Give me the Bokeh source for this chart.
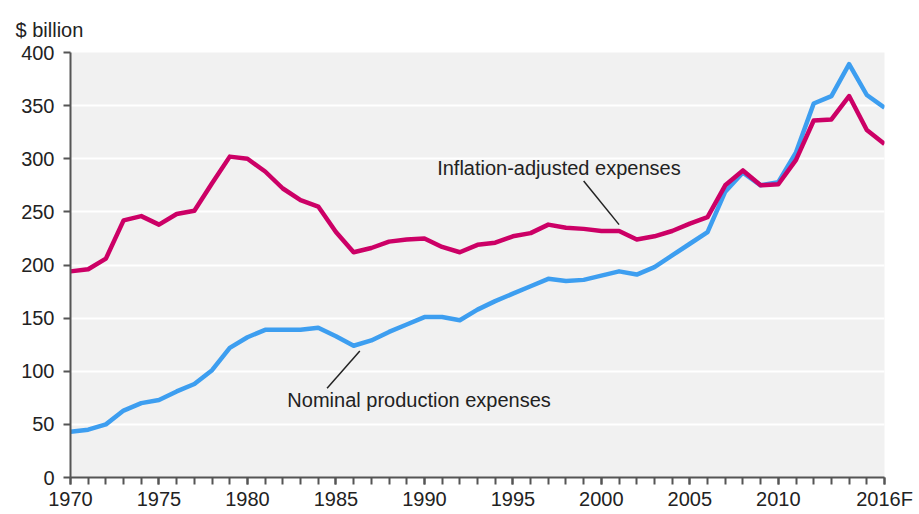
from bokeh.plotting import figure
from bokeh.models import FixedTicker, Label, Range1d
from bokeh.embed import file_html
from bokeh.resources import INLINE

years = list(range(1970, 2017))
nominal = [43, 45, 50, 63, 70, 73, 81, 88, 101, 122,
           132, 139, 139, 139, 141, 133, 124, 129, 137, 144,
           151, 151, 148, 158, 166, 173, 180, 187, 185, 186,
           190, 194, 191, 198, 209, 220, 231, 269, 287, 275,
           278, 306, 352, 359, 389, 360, 348]
inflation = [194, 196, 206, 242, 246, 238, 248, 251, 277, 302,
             300, 288, 272, 261, 255, 231, 212, 216, 222, 224,
             225, 217, 212, 219, 221, 227, 230, 238, 235, 234,
             232, 232, 224, 227, 232, 239, 245, 275, 289, 275,
             276, 299, 336, 337, 359, 327, 314]
y_ticks = [0, 50, 100, 150, 200, 250, 300, 350, 400]
x_major = [1970, 1975, 1980, 1985, 1990, 1995, 2000, 2005, 2010, 2016]
x_labels = {2016: "2016F"}

FONT = "Liberation Sans"
TXT = "#222222"

p = figure(width=919, height=512, output_backend="svg", toolbar_location=None,
           x_range=Range1d(1970, 2016), y_range=Range1d(0, 400),
           min_border_left=70, min_border_right=35, min_border_top=52, min_border_bottom=34,
           title="$ billion")
p.title.align = "left"
p.title.offset = -55
p.title.standoff = 24
p.title.text_font = FONT
p.title.text_font_size = "20px"
p.title.text_font_style = "normal"
p.title.text_color = TXT

p.outline_line_color = None
p.background_fill_color = "#f1f1f1"
p.border_fill_color = "white"

p.xgrid.grid_line_color = None
p.ygrid.ticker = FixedTicker(ticks=y_ticks)
p.ygrid.grid_line_color = "white"
p.ygrid.grid_line_width = 2

p.yaxis.ticker = FixedTicker(ticks=y_ticks)
p.xaxis.ticker = FixedTicker(ticks=x_major, minor_ticks=years)
p.xaxis.major_label_overrides = x_labels

for ax in (p.xaxis[0], p.yaxis[0]):
    ax.axis_line_color = "#555555"
    ax.axis_line_width = 2
    ax.major_tick_line_color = "#555555"
    ax.major_tick_line_width = 2
    ax.major_tick_out = 7
    ax.major_tick_in = 0
    ax.major_label_text_font = FONT
    ax.major_label_text_font_size = "20px"
    ax.major_label_text_color = TXT

p.yaxis.minor_tick_line_color = None
p.yaxis.major_label_standoff = 9
p.xaxis.minor_tick_line_color = "#555555"
p.xaxis.minor_tick_line_width = 2
p.xaxis.minor_tick_out = 7
p.xaxis.minor_tick_in = 0
p.xaxis.major_label_standoff = 3

p.line(years, nominal, line_color="#3d9ef0", line_width=4.5, line_join="round")
p.line(years, inflation, line_color="#cc0066", line_width=4.5, line_join="round")

# leader lines
p.line([1999.0, 2001.0], [279, 238], line_color="#222222", line_width=1.5)
p.line([1984.5, 1986.35], [84, 119], line_color="#222222", line_width=1.5)

p.add_layout(Label(x=1997.6, y=291, text="Inflation-adjusted expenses",
                   text_align="center", text_baseline="middle",
                   text_font=FONT, text_font_size="20px", text_color=TXT))
p.add_layout(Label(x=1989.7, y=73, text="Nominal production expenses",
                   text_align="center", text_baseline="middle",
                   text_font=FONT, text_font_size="20px", text_color=TXT))

open("out.html", "w").write(file_html(p, INLINE))
